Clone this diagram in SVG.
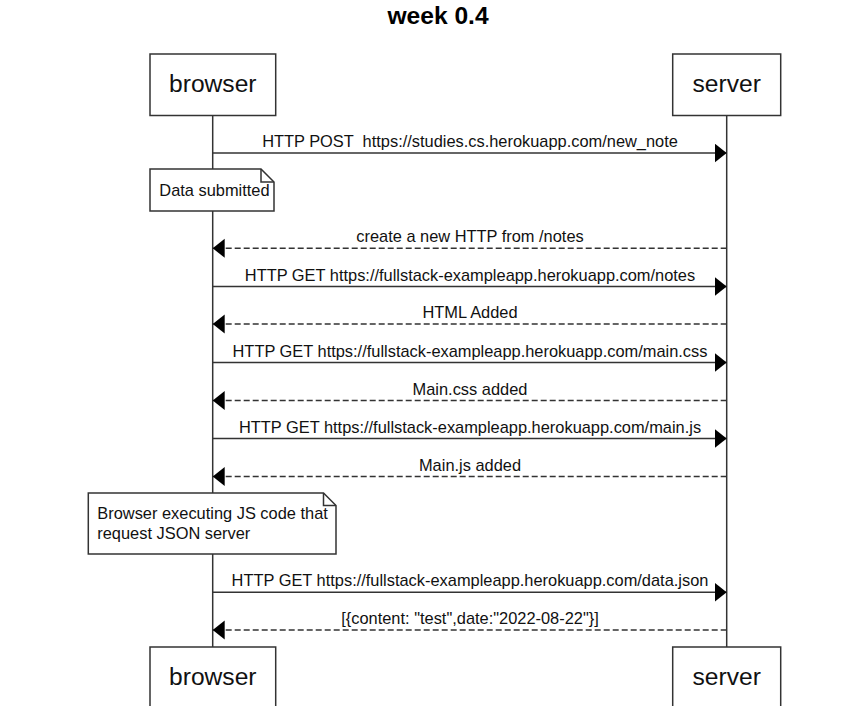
<svg xmlns="http://www.w3.org/2000/svg" width="858" height="706" viewBox="0 0 858 706">
  <style>
    .bg { fill: #ffffff; }
    .box { fill: #ffffff; stroke: #333333; stroke-width: 1.5; }
    .life { stroke: #333333; stroke-width: 1.5; fill: none; }
    .msg { stroke: #333333; stroke-width: 1.5; fill: none; }
    .dash { stroke-dasharray: 6 3; }
    .actor { font-family: "Liberation Sans", Arial, sans-serif; font-size: 24.6px; fill: #111111; text-anchor: middle; }
    .label { font-family: "Liberation Sans", Arial, sans-serif; font-size: 16.4px; fill: #111111; text-anchor: middle; white-space: pre; }
    .note { font-family: "Liberation Sans", Arial, sans-serif; font-size: 16.4px; fill: #111111; }
    .title { font-family: "Liberation Sans", Arial, sans-serif; font-size: 24.6px; font-weight: bold; fill: #000000; text-anchor: middle; }
  </style>
  <defs>
    <marker id="head" markerUnits="userSpaceOnUse" markerWidth="13" markerHeight="20" refX="12" refY="9.5" orient="auto">
      <path d="M0,0 L12,9.5 L0,19 Z" fill="#000000"/>
    </marker>
  </defs>
  <rect class="bg" x="0" y="0" width="858" height="706"/>
  <text class="title" x="438" y="24">week 0.4</text>

  <g id="lifelines">
    <line class="life" x1="212.7" y1="115" x2="212.7" y2="647"/>
    <line class="life" x1="726.7" y1="115" x2="726.7" y2="647"/>
  </g>

  <g id="browser-top">
    <rect class="box" x="150" y="54" width="125.7" height="61.5"/>
    <text class="actor" x="212.8" y="92">browser</text>
  </g>
  <g id="server-top">
    <rect class="box" x="672.7" y="54" width="108" height="61.5"/>
    <text class="actor" x="726.7" y="92">server</text>
  </g>
  <g id="browser-bottom">
    <rect class="box" x="150" y="647" width="125.7" height="61.5"/>
    <text class="actor" x="212.8" y="685">browser</text>
  </g>
  <g id="server-bottom">
    <rect class="box" x="672.7" y="647" width="108" height="61.5"/>
    <text class="actor" x="726.7" y="685">server</text>
  </g>

  <g id="note-data-submitted">
    <path class="box" d="M150,169 H261 L274,182 V211 H150 Z"/>
    <path class="life" d="M261,169 V182 H274"/>
    <text class="note" x="159.3" y="196">Data submitted</text>
  </g>
  <g id="note-browser-executing">
    <path class="box" d="M88.3,493 H323.5 L336,505.5 V554 H88.3 Z"/>
    <path class="life" d="M323.5,493 V505.5 H336"/>
    <text class="note" x="97.3" y="519">Browser executing JS code that</text>
    <text class="note" x="97.3" y="539">request JSON server</text>
  </g>

  <g id="connectors">
    <line class="msg" x1="212.7" y1="153" x2="726.7" y2="153" marker-end="url(#head)"/>
    <text class="label" x="470" y="147">HTTP POST  https://studies.cs.herokuapp.com/new_note</text>

    <line class="msg dash" x1="726.7" y1="248.3" x2="212.7" y2="248.3" marker-end="url(#head)"/>
    <text class="label" x="470" y="242.3">create a new HTTP from /notes</text>

    <line class="msg" x1="212.7" y1="286.5" x2="726.7" y2="286.5" marker-end="url(#head)"/>
    <text class="label" x="470" y="280.5">HTTP GET https://fullstack-exampleapp.herokuapp.com/notes</text>

    <line class="msg dash" x1="726.7" y1="324" x2="212.7" y2="324" marker-end="url(#head)"/>
    <text class="label" x="470" y="318">HTML Added</text>

    <line class="msg" x1="212.7" y1="362.5" x2="726.7" y2="362.5" marker-end="url(#head)"/>
    <text class="label" x="470" y="356.5">HTTP GET https://fullstack-exampleapp.herokuapp.com/main.css</text>

    <line class="msg dash" x1="726.7" y1="400.5" x2="212.7" y2="400.5" marker-end="url(#head)"/>
    <text class="label" x="470" y="394.5">Main.css added</text>

    <line class="msg" x1="212.7" y1="438.5" x2="726.7" y2="438.5" marker-end="url(#head)"/>
    <text class="label" x="470" y="432.5">HTTP GET https://fullstack-exampleapp.herokuapp.com/main.js</text>

    <line class="msg dash" x1="726.7" y1="476.5" x2="212.7" y2="476.5" marker-end="url(#head)"/>
    <text class="label" x="470" y="470.5">Main.js added</text>

    <line class="msg" x1="212.7" y1="592.3" x2="726.7" y2="592.3" marker-end="url(#head)"/>
    <text class="label" x="470" y="586.3">HTTP GET https://fullstack-exampleapp.herokuapp.com/data.json</text>

    <line class="msg dash" x1="726.7" y1="630" x2="212.7" y2="630" marker-end="url(#head)"/>
    <text class="label" x="470" y="624">[{content: "test",date:"2022-08-22"}]</text>
  </g>
</svg>
